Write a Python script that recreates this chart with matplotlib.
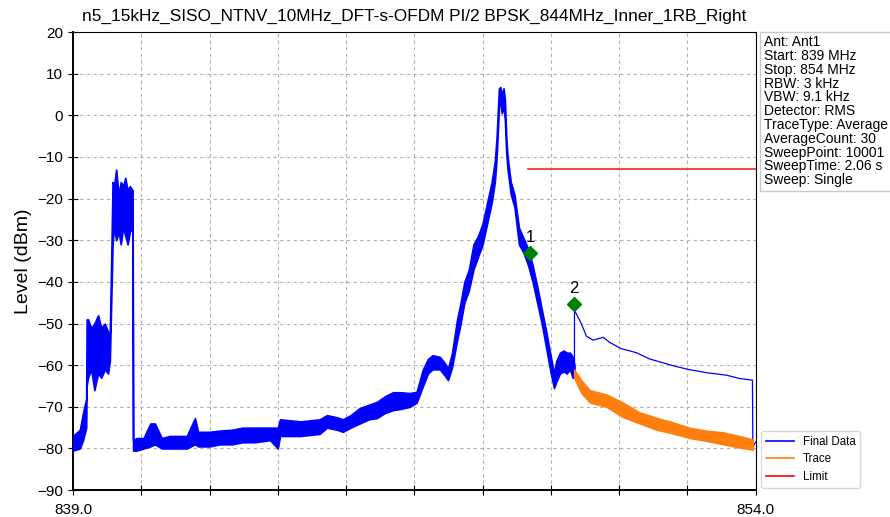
import numpy as np
import matplotlib
matplotlib.use("Agg")
import matplotlib.pyplot as plt

plt.rcParams["font.family"] = ["Liberation Sans", "DejaVu Sans"]

TITLE = "n5_15kHz_SISO_NTNV_10MHz_DFT-s-OFDM PI/2 BPSK_844MHz_Inner_1RB_Right"

# Final Data, noisy part (MHz, lower / upper edge of the noise band in dBm)
final_freq = [839.00, 839.15, 839.22, 839.29, 839.30, 839.33, 839.40, 839.47, 839.55,
              839.62, 839.70, 839.77, 839.81, 839.84, 839.87, 839.90, 839.95, 840.00,
              840.05, 840.10, 840.15, 840.20, 840.25, 840.31, 840.32, 840.40, 840.55,
              840.70, 840.80, 840.95, 841.13, 841.50, 841.68, 841.75, 842.00, 842.23,
              842.50, 842.73, 843.00, 843.33, 843.50, 843.55, 844.00, 844.42, 844.58,
              844.80, 844.93, 845.10, 845.30, 845.50, 845.68, 845.85, 846.03, 846.20,
              846.40, 846.55, 846.69, 846.80, 846.90, 847.06, 847.17, 847.24, 847.33,
              847.44, 847.50, 847.60, 847.70, 847.80, 847.90, 848.00, 848.10, 848.20,
              848.27, 848.31, 848.34, 848.36, 848.39, 848.42, 848.46, 848.49, 848.52,
              848.55, 848.62, 848.70, 848.80, 848.90, 849.00, 849.10, 849.20, 849.30,
              849.40, 849.50, 849.57, 849.62, 849.70, 849.78, 849.85, 849.92, 849.98,
              850.02]
final_low = [-80.5, -80, -78, -75, -65, -63, -61, -66, -62,
             -63, -61, -62, -59, -45, -31, -27, -30, -28,
             -31, -27, -29, -31, -28, -27, -80.5, -80.5, -80,
             -79.5, -79, -80, -80, -80, -79, -79.5, -79.5, -79,
             -79, -78.5, -78.5, -78, -80, -77, -77, -76.5, -75,
             -75.5, -76, -75, -74, -73, -72.7, -71.5, -70.8, -70.5,
             -70, -69, -65, -62, -61, -61, -62.5, -63.6, -60.5,
             -54, -51, -45, -42, -37, -34, -31, -26, -21,
             -16, -10, -3, 2, 3.5, 0.5, 2, -1, -9,
             -13, -19, -22, -31, -33, -36, -40, -45, -50,
             -56, -62, -65.5, -64, -62, -61.5, -62, -61, -63,
             -63]
final_high = [-77, -75.5, -71.5, -68, -49, -49, -51, -50, -48,
              -51, -50, -52, -52, -35, -16, -17, -13, -19,
              -16, -17, -15, -18, -17, -18, -78, -77.5, -77.5,
              -74, -74, -77.5, -77, -77, -72.7, -76, -76, -75.7,
              -75.5, -75, -75, -75, -75, -73, -73.5, -73, -72,
              -72.5, -73, -72, -70.3, -69.5, -68.8, -67.5, -66.5, -66.5,
              -66.7, -66.4, -61, -58.5, -57.6, -58, -59.5, -60.8, -57,
              -49, -46, -40, -37, -31, -29, -26, -21, -16,
              -11, -5, 2, 6.5, 6.8, 5, 6.5, 4, -5,
              -10, -16, -19, -27, -29.5, -32, -36, -41, -46.5,
              -52, -58, -62, -59, -57, -56.5, -57, -57, -58,
              -60]

# Final Data, smooth tail after marker 2
tail_freq = [850.02, 850.02, 850.17, 850.28, 850.43, 850.65, 850.79, 851.04, 851.38,
             851.67, 852.18, 852.51, 852.92, 853.36, 853.65, 853.93, 853.94, 853.97, 854.0]
tail_level = [-62, -46.8, -50.0, -53.0, -54.0, -53.3, -54.5, -56.0, -57.0,
              -58.5, -60.1, -61.0, -61.8, -62.4, -63.2, -63.6, -80, -79, -78.5]

# Trace (orange)
trace_freq = [850.01, 850.17, 850.36, 850.72, 851.09, 851.45, 851.82, 852.18, 852.55,
              852.92, 853.28, 853.65, 853.94]
trace_low = [-63, -66.7, -69, -70, -72.5, -74, -75.5, -76.4, -77.5, -78.2, -79, -79.8, -80.3]
trace_high = [-61, -63.6, -66, -67, -69, -71.3, -72.6, -73.7, -75, -75.7, -76.1, -77, -77.8]

limit_freq = [849.0, 854.0]
limit_level = [-13, -13]

marker_freq = [849.04, 850.01]
marker_level = [-33.1, -45.3]
marker_labels = ["1", "2"]

info_lines = ["Ant: Ant1", "Start: 839 MHz", "Stop: 854 MHz", "RBW: 3 kHz", "VBW: 9.1 kHz",
              "Detector: RMS", "TraceType: Average", "AverageCount: 30",
              "SweepPoint: 10001", "SweepTime: 2.06 s", "Sweep: Single"]

fig = plt.figure(figsize=(8.9, 5.17), dpi=100)
ax = fig.add_axes([0.082, 0.052, 0.767, 0.886])

blue = "#0000ff"
orange = "#ff7f0e"

ax.fill_between(final_freq, final_low, final_high, color=blue, lw=1.2, edgecolor=blue, zorder=3)
ax.plot(tail_freq, tail_level, color=blue, lw=0.9, zorder=3)
ax.fill_between(trace_freq, trace_low, trace_high, color=orange, lw=1.0, edgecolor=orange, zorder=4)
ax.plot(limit_freq, limit_level, color="#ff2020", lw=1.2, zorder=4)

# legend proxies
ax.plot([], [], color=blue, lw=1.2, label="Final Data")
ax.plot([], [], color=orange, lw=1.2, label="Trace")
ax.plot([], [], color="red", lw=1.2, label="Limit")

ax.plot(marker_freq, marker_level, "D", color="#008000", ms=7, zorder=5)
for f, v, lab in zip(marker_freq, marker_level, marker_labels):
    ax.annotate(lab, (f, v), xytext=(0, 6), textcoords="offset points",
                ha="center", va="bottom", fontsize=12, zorder=6)

ax.set_xlim(839, 854)
ax.set_ylim(-90, 20)
xt = np.linspace(839, 854, 11)
ax.set_xticks(xt)
ax.set_xticklabels(["839.0"] + [""] * 9 + ["854.0"])
ax.set_yticks(np.arange(-90, 21, 10))
ax.tick_params(direction="inout", length=7, labelsize=11)
ax.tick_params(axis="x", pad=6)
ax.grid(True, color="#b0b0b0", ls=(0, (3, 3)), lw=0.8)
ax.set_axisbelow(True)
for s in ["left", "bottom"]:
    ax.spines[s].set_linewidth(1.4)

ax.set_ylabel("Level (dBm)", fontsize=14)
ax.set_title(TITLE, fontsize=12.4, pad=8)

ax.text(1.012, 0.993, "\n".join(info_lines), transform=ax.transAxes, fontsize=10,
        va="top", ha="left", linespacing=0.98,
        bbox=dict(boxstyle="square,pad=0.25", fc="white", ec="#c8c8c8", lw=1))

ax.legend(loc="lower left", bbox_to_anchor=(1.005, 0.0), fontsize=8.3, frameon=True,
          handlelength=2.4, borderaxespad=0.2, edgecolor="#d0d0d0", fancybox=True)

fig.savefig("out.png", dpi=100)
